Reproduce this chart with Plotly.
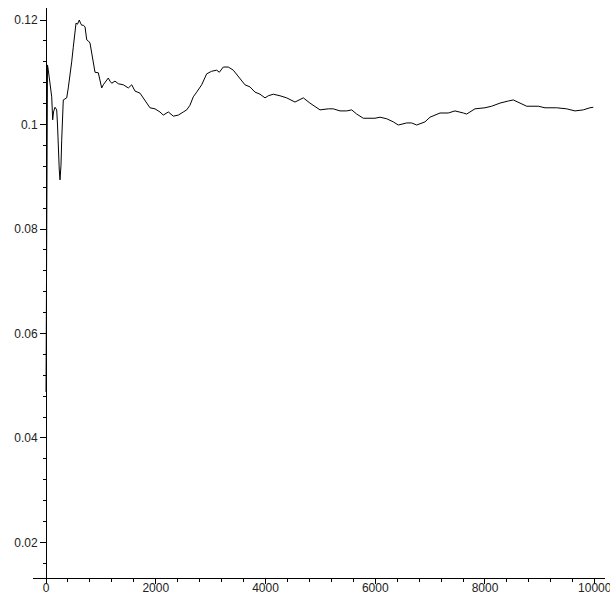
import plotly.graph_objects as go

# Sample index of the series
steps = [0, 5, 9, 13, 18, 27, 42, 73, 104, 122,
         137, 164, 195, 210, 224, 242, 255, 273, 286, 301,
         315, 346, 377, 406, 437, 468, 497, 528, 547, 574,
         607, 629, 651, 680, 711, 742, 771, 802, 862, 893,
         953, 984, 1015, 1044, 1075, 1135, 1166, 1197, 1257, 1318,
         1409, 1500, 1562, 1622, 1713, 1804, 1895, 1986, 2077, 2137,
         2229, 2320, 2411, 2502, 2564, 2624, 2684, 2746, 2837, 2928,
         3020, 3111, 3158, 3231, 3322, 3413, 3535, 3626, 3717, 3809,
         3900, 3991, 4051, 4142, 4264, 4386, 4537, 4689, 4810, 4932,
         4993, 5144, 5235, 5358, 5480, 5571, 5662, 5782, 5904, 5995,
         6086, 6209, 6329, 6420, 6573, 6664, 6755, 6846, 6906, 6998,
         7180, 7331, 7453, 7606, 7666, 7817, 7999, 8121, 8274, 8425,
         8516, 8638, 8760, 8971, 9093, 9306, 9488, 9640, 9791, 9913,
         9973]

# Running value at each sample
values = [0.0488, 0.0664, 0.0856, 0.1018, 0.1085, 0.1114, 0.1104, 0.1079, 0.1053, 0.1009,
          0.1024, 0.1033, 0.1028, 0.0999, 0.0951, 0.0913, 0.0894, 0.0922, 0.0970, 0.1018,
          0.1047, 0.1049, 0.1051, 0.1070, 0.1091, 0.1120, 0.1148, 0.1181, 0.1194, 0.1192,
          0.1200, 0.1194, 0.1190, 0.1190, 0.1187, 0.1162, 0.1160, 0.1156, 0.1123, 0.1100,
          0.1099, 0.1081, 0.1070, 0.1076, 0.1081, 0.1089, 0.1083, 0.1079, 0.1083, 0.1078,
          0.1076, 0.1070, 0.1076, 0.1064, 0.1060, 0.1047, 0.1032, 0.1030, 0.1024, 0.1018,
          0.1024, 0.1016, 0.1018, 0.1024, 0.1028, 0.1037, 0.1053, 0.1062, 0.1076, 0.1097,
          0.1102, 0.1104, 0.1100, 0.1110, 0.1110, 0.1104, 0.1089, 0.1076, 0.1072, 0.1062,
          0.1058, 0.1051, 0.1055, 0.1058, 0.1055, 0.1051, 0.1043, 0.1051, 0.1041, 0.1032,
          0.1028, 0.1030, 0.1030, 0.1026, 0.1026, 0.1028, 0.1020, 0.1012, 0.1012, 0.1012,
          0.1014, 0.1011, 0.1005, 0.0999, 0.1003, 0.1003, 0.0999, 0.1003, 0.1005, 0.1014,
          0.1022, 0.1022, 0.1026, 0.1022, 0.1020, 0.1030, 0.1032, 0.1035, 0.1041, 0.1045,
          0.1047, 0.1041, 0.1035, 0.1035, 0.1032, 0.1032, 0.1030, 0.1026, 0.1028, 0.1032,
          0.1033]

x_ticks = [0, 2000, 4000, 6000, 8000, 10000]
x_labels = ["0", "2000", "4000", "6000", "8000", "10000"]
y_ticks = [0.02, 0.04, 0.06, 0.08, 0.1, 0.12]
y_labels = ["0.02", "0.04", "0.06", "0.08", "0.1", "0.12"]

W, H = 610, 596
ML, MR, MT, MB = 33, 5, 8, 18
x_range = [-237, 10187]
y_range = [0.01320, 0.12230]

font = dict(family="Liberation Sans, Arial, sans-serif", size=12, color="#222222")

fig = go.Figure()
fig.add_trace(go.Scatter(
    x=steps, y=values, mode="lines",
    line=dict(color="#000000", width=1),
    showlegend=False, hoverinfo="skip",
))

# y axis crosses the x axis at x = 0
y_pos = (0 - x_range[0]) / (x_range[1] - x_range[0])

fig.update_layout(
    width=W, height=H,
    margin=dict(l=ML, r=MR, t=MT, b=MB, pad=0, autoexpand=False),
    paper_bgcolor="white", plot_bgcolor="white",
    font=font,
    xaxis=dict(
        range=x_range, showgrid=False, zeroline=False, automargin=False,
        showline=True, linecolor="#000000", linewidth=1,
        tickmode="array", tickvals=x_ticks, ticktext=x_labels,
        ticks="outside", ticklen=5, tickwidth=1, tickcolor="#000000",
        ticklabeloverflow="allow", ticklabelstandoff=-6,
        minor=dict(tickmode="linear", tick0=0, dtick=400, ticks="outside",
                   ticklen=3, tickcolor="#000000", showgrid=False),
        tickfont=font,
    ),
    yaxis=dict(
        range=y_range, showgrid=False, zeroline=False, automargin=False,
        anchor="free", position=y_pos,
        showline=True, linecolor="#000000", linewidth=1,
        tickmode="array", tickvals=y_ticks, ticktext=y_labels,
        ticks="outside", ticklen=6, tickwidth=1, tickcolor="#000000",
        ticklabeloverflow="allow",
        minor=dict(tickmode="linear", tick0=0, dtick=0.004, ticks="outside",
                   ticklen=3, tickcolor="#000000", showgrid=False),
        tickfont=font,
    ),
)

fig.write_html("out.html")
